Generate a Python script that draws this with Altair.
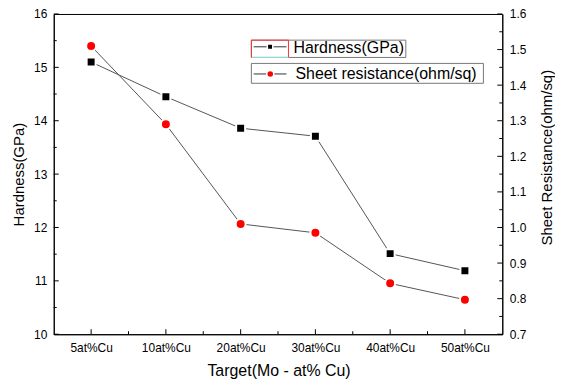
import json
import altair as alt
import pandas as pd

# ---- data ----
categories = ["5at%Cu", "10at%Cu", "20at%Cu", "30at%Cu", "40at%Cu", "50at%Cu"]
hardness = [15.10, 14.45, 13.86, 13.71, 11.51, 11.19]
sheet_resistance = [1.51, 1.29, 1.01, 0.985, 0.843, 0.797]
legend_labels = ["Hardness(GPa)", "Sheet resistance(ohm/sq)"]

x_major = [0, 1, 2, 3, 4, 5]
x_minor = [0.5, 1.5, 2.5, 3.5, 4.5]
h_major = [10, 11, 12, 13, 14, 15, 16]
h_minor = [10.5, 11.5, 12.5, 13.5, 14.5, 15.5]
r_major = [0.7, 0.8, 0.9, 1.0, 1.1, 1.2, 1.3, 1.4, 1.5, 1.6]
r_minor = [0.75, 0.85, 0.95, 1.05, 1.15, 1.25, 1.35, 1.45, 1.55]

df = pd.DataFrame({
    "idx": list(range(len(categories))),
    "category": categories,
    "hardness": hardness,
    "sheet": sheet_resistance,
})

FONT = "Liberation Sans"
LINE_COLOR = "#555555"
W, H = 451, 322
MAJ, MIN = 5, 3

x_scale = alt.Scale(domain=[-0.5, 5.5], nice=False, zero=False)
h_scale = alt.Scale(domain=[10, 16], nice=False, zero=False)
r_scale = alt.Scale(domain=[0.7, 1.6], nice=False, zero=False)

x_axis = alt.Axis(
    values=x_major,
    labelExpr=json.dumps(categories) + "[datum.value]",
    ticks=False, labelPadding=8, labelOverlap=False, labelFlush=False, grid=False,
    title="Target(Mo - at% Cu)", titleX=226, titleY=36,
    titleAlign="center", titleBaseline="middle", titleFontSize=16,
)
h_axis = alt.Axis(
    values=h_major, orient="left", format="d",
    ticks=False, labelPadding=7, labelOverlap=False, labelFlush=False, grid=False,
    title="Hardness(GPa)", titleX=-35, titleY=161, titleAngle=270,
    titleAlign="center", titleBaseline="middle",
)
r_axis = alt.Axis(
    values=r_major, orient="right", format=".1f",
    ticks=False, labelPadding=7, labelOverlap=False, labelFlush=False, grid=False,
    title="Sheet Resistance(ohm/sq)", titleX=44, titleY=144, titleAngle=270,
    titleAlign="center", titleBaseline="middle",
)


def xenc(field):
    return alt.X(field, scale=x_scale, axis=x_axis)


base = alt.Chart(df)

h_line = base.mark_line(color=LINE_COLOR, strokeWidth=1).encode(
    x=xenc("idx:Q"), y=alt.Y("hardness:Q", scale=h_scale, axis=h_axis))
r_line = base.mark_line(color=LINE_COLOR, strokeWidth=1).encode(
    x=xenc("idx:Q"), y=alt.Y("sheet:Q", scale=r_scale, axis=r_axis))
h_pts = base.mark_point(shape="square", filled=True, size=81, fill="black",
                        stroke="white", strokeWidth=2, opacity=1).encode(
    x=xenc("idx:Q"), y=alt.Y("hardness:Q", scale=h_scale, axis=None))
r_pts = base.mark_point(shape="circle", filled=True, size=100, fill="#ff0000",
                        stroke="white", strokeWidth=2, opacity=1).encode(
    x=xenc("idx:Q"), y=alt.Y("sheet:Q", scale=r_scale, axis=None))

# ---- inward axis ticks (major and minor), placed through the scales ----
def tdf(vals):
    return alt.Chart(pd.DataFrame({"v": vals}))

tick_layers = []
for vals, ln in ((x_major, MAJ), (x_minor, MIN)):
    tick_layers.append(tdf(vals).mark_rule(color="black", strokeWidth=1).encode(
        x=xenc("v:Q"), y=alt.value(H), y2=alt.value(H - ln)))
for vals, ln in ((h_major, MAJ), (h_minor, MIN)):
    tick_layers.append(tdf(vals).mark_rule(color="black", strokeWidth=1).encode(
        y=alt.Y("v:Q", scale=h_scale, axis=None), x=alt.value(0), x2=alt.value(ln)))
for vals, ln in ((r_major, MAJ), (r_minor, MIN)):
    tick_layers.append(tdf(vals).mark_rule(color="black", strokeWidth=1).encode(
        y=alt.Y("v:Q", scale=r_scale, axis=None), x=alt.value(W), x2=alt.value(W - ln)))

# ---- legend (decoration) ----
ld = alt.Chart(pd.DataFrame({"k": [0]}))
box1 = ld.mark_rect(fill="white", stroke="#777777", strokeWidth=1).encode(
    x=alt.value(198.7), x2=alt.value(354), y=alt.value(26.3), y2=alt.value(43.7))
redbox = ld.mark_rect(fillOpacity=0, stroke="#ff3030", strokeWidth=1).encode(
    x=alt.value(198.7), x2=alt.value(236), y=alt.value(26.3), y2=alt.value(43.7))
cyan = ld.mark_rule(color="#7fe6f0", strokeWidth=1).encode(
    x=alt.value(199), x2=alt.value(236), y=alt.value(43.7))
sym_line1 = ld.mark_rule(color="#333333", strokeWidth=1).encode(
    x=alt.value(201), x2=alt.value(234), y=alt.value(33))
sym_pt1 = ld.mark_point(shape="square", filled=True, size=30, fill="black",
                        stroke="white", strokeWidth=1.5, opacity=1).encode(
    x=alt.value(217.5), y=alt.value(33))
text1 = ld.mark_text(align="left", baseline="middle", font=FONT, fontSize=16, color="black").encode(
    x=alt.value(241), y=alt.value(34.5), text=alt.value(legend_labels[0]))

box2 = ld.mark_rect(fill="white", stroke="#777777", strokeWidth=1).encode(
    x=alt.value(198.7), x2=alt.value(432), y=alt.value(49.7), y2=alt.value(69.7))
sym_line2 = ld.mark_rule(color="#333333", strokeWidth=1).encode(
    x=alt.value(201), x2=alt.value(234), y=alt.value(60.3))
sym_pt2 = ld.mark_point(shape="circle", filled=True, size=50, fill="#ff0000",
                        stroke="white", strokeWidth=1.5, opacity=1).encode(
    x=alt.value(217.7), y=alt.value(60.3))
text2 = ld.mark_text(align="left", baseline="middle", font=FONT, fontSize=16, color="black").encode(
    x=alt.value(243), y=alt.value(60.8), text=alt.value(legend_labels[1]))

chart = alt.layer(
    *tick_layers,
    h_line, r_line, h_pts, r_pts,
    box1, redbox, cyan, sym_line1, sym_pt1, text1,
    box2, sym_line2, sym_pt2, text2,
).resolve_scale(
    y="independent"
).properties(
    width=W,
    height=H,
    autosize=alt.AutoSizeParams(type="none"),
    padding={"left": 46, "top": 5, "right": 53, "bottom": 44},
    background="white",
).configure_view(
    stroke="black", strokeWidth=1
).configure_axis(
    domainColor="black", domainWidth=1,
    labelColor="black", labelFont=FONT, labelFontSize=12,
    titleColor="black", titleFont=FONT, titleFontSize=15, titleFontWeight="normal",
)

chart.save("out.html", embed_options={"renderer": "svg", "actions": False})
